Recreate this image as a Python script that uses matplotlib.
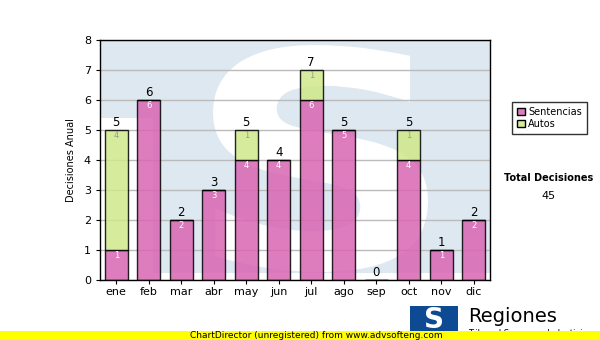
import matplotlib.pyplot as plt
import matplotlib.patches as mpatches
from matplotlib.textpath import TextPath
from matplotlib.font_manager import FontProperties
from matplotlib.transforms import Affine2D
import numpy as np

# data
meses = ['ene', 'feb', 'mar', 'abr', 'may', 'jun', 'jul', 'ago', 'sep', 'oct', 'nov', 'dic']
sentencias = [1, 6, 2, 3, 4, 4, 6, 5, 0, 4, 1, 2]
autos = [4, 0, 0, 0, 1, 0, 1, 0, 0, 1, 0, 0]
totales = [s + a for s, a in zip(sentencias, autos)]

pink = '#d966b3'
green = '#cfe88a'

fig = plt.figure(figsize=(6, 3.4), dpi=100)
ax = fig.add_axes([100/600, 60/340, 390/600, 240/340])

x = np.arange(len(meses))
ax.set_xlim(-0.5, len(meses) - 0.5)
ax.set_ylim(0, 8)

# watermark (rough copy of the logo behind the bars)
def px2data(px, py):
    return ax.transData.inverted().transform(
        fig.transFigure.transform((px/600, 1 - py/340)))

bg = '#dde8f1'
x0, y0 = px2data(100, 118)
x1, y1 = px2data(490, 40)
ax.add_patch(mpatches.Rectangle((x0, y0), x1 - x0, y1 - y0, color=bg, lw=0, zorder=0))
x0, y0 = px2data(153, 273)
x1, y1 = px2data(490, 118)
ax.add_patch(mpatches.Rectangle((x0, y0), x1 - x0, y1 - y0, color=bg, lw=0, zorder=0))

sp = TextPath((0, 0), 'S', size=1, prop=FontProperties(family='DejaVu Sans', weight='bold'))
ext = sp.get_extents()
sx0, sy0 = px2data(213, 272)
sx1, sy1 = px2data(428, 45)
tr = (Affine2D().translate(-ext.x0, -ext.y0)
      .scale((sx1 - sx0) / ext.width, (sy1 - sy0) / ext.height)
      .translate(sx0, sy0))
ax.add_patch(mpatches.PathPatch(tr.transform_path(sp), facecolor='white', lw=0, zorder=0.5))
ax.set_facecolor('white')

ax.set_yticks(range(0, 9))
ax.grid(axis='y', color='#bbbbbb', lw=1, zorder=1)
ax.set_axisbelow(True)

bw = 0.71
ax.bar(x, sentencias, bw, color=pink, alpha=0.85, edgecolor='black', lw=1, zorder=2,
       label='Sentencias')
ax.bar(x, autos, bw, bottom=sentencias, color=green, alpha=0.85, edgecolor='black', lw=1,
       zorder=2, label='Autos')

for i in range(len(meses)):
    if sentencias[i] > 0:
        ax.text(x[i], sentencias[i] - 0.18, str(sentencias[i]), ha='center', va='center',
                fontsize=6, color='white', zorder=3)
    if autos[i] > 0:
        ax.text(x[i], totales[i] - 0.18, str(autos[i]), ha='center', va='center',
                fontsize=6, color='#999999', zorder=3)
    ax.text(x[i], totales[i] + 0.03, str(totales[i]), ha='center', va='bottom',
            fontsize=8.5, color='black', zorder=3)

ax.set_xticks(x)
ax.set_xticklabels(meses, fontsize=8)
ax.tick_params(axis='y', labelsize=8, length=3)
ax.tick_params(axis='x', length=3, pad=2)
for s in ax.spines.values():
    s.set_linewidth(1)
ax.set_ylabel('Decisiones Anual', fontsize=7, labelpad=6)

leg = fig.legend(handles=[mpatches.Patch(facecolor='#de7cc0', edgecolor='black', label='Sentencias'),
                          mpatches.Patch(facecolor='#d7ec9a', edgecolor='black', label='Autos')],
                 loc='upper left', bbox_to_anchor=(507/600, 1 - 97/340), fontsize=7,
                 frameon=True, fancybox=False, edgecolor='black', handlelength=0.8,
                 handleheight=0.8, handletextpad=0.4, borderpad=0.5, labelspacing=0.2)
leg.get_frame().set_linewidth(1)

fig.text(549/600, 1 - 178/340, 'Total Decisiones', fontsize=7, fontweight='bold',
         ha='center', va='center')
fig.text(549/600, 1 - 196/340, '45', fontsize=8, ha='center', va='center')

# logo at the bottom
fig.patches.append(mpatches.Rectangle((410/600, 1 - 334/340), 48/600, 28/340,
                                      transform=fig.transFigure, color='#0d4a93', lw=0))
fig.text(434/600, 1 - 320/340, 'S', fontsize=20, fontweight='bold', color='white',
         ha='center', va='center')
fig.text(468/600, 1 - 316/340, 'Regiones', fontsize=14, ha='left', va='center')
fig.text(468/600, 1 - 333/340, 'Tribunal Supremo de Justicia', fontsize=6, ha='left',
         va='center')

# yellow banner
fig.patches.append(mpatches.Rectangle((0, 0), 1, 9/340, transform=fig.transFigure,
                                      color='#ffff00', lw=0, zorder=5))
fig.text(190/600, 4.5/340, 'ChartDirector (unregistered) from www.advsofteng.com',
         fontsize=6.5, ha='left', va='center', zorder=6)

fig.savefig('out.png', dpi=100)
